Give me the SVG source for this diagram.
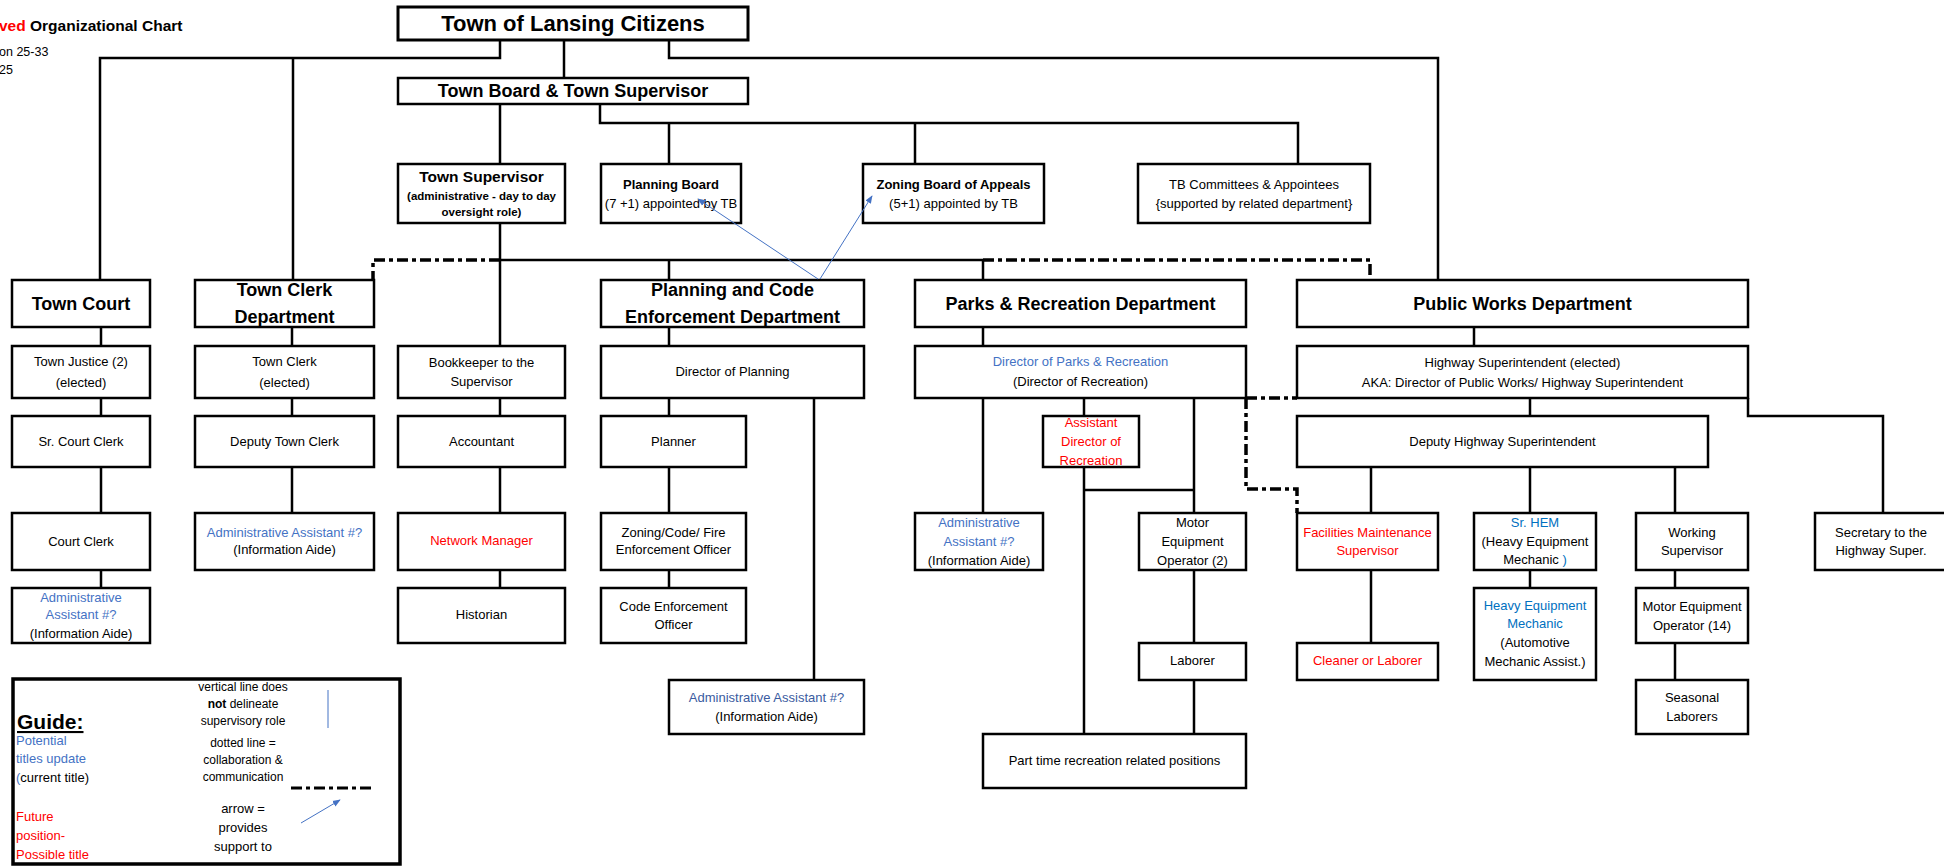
<svg xmlns="http://www.w3.org/2000/svg" width="1944" height="866" viewBox="0 0 1944 866">
<style>
  .bx{fill:#fff;stroke:#000;stroke-width:2.5}
  .ln{fill:none;stroke:#000;stroke-width:2.5}
  .dd{fill:none;stroke:#000;stroke-width:3.5;stroke-dasharray:11 4 4 4}
  .ar{fill:none;stroke:#4472C4;stroke-width:1}
  text{font-family:"Liberation Sans",Arial,sans-serif;font-size:13px;fill:#000;text-anchor:middle}
  .h{font-weight:bold;font-size:18px}
  .sb{font-weight:bold}
  .bl{fill:#4472C4}
  .bl2{fill:#0070C0}
  .rd{fill:#FF0000}
  .lt{text-anchor:start}
</style>
<defs>
  <marker id="ah" viewBox="0 0 10 10" refX="9" refY="5" markerWidth="8" markerHeight="8" markerUnits="userSpaceOnUse" orient="auto">
    <path d="M0,1 L10,5 L0,9 Z" fill="#4472C4"/>
  </marker>
  <clipPath id="potclip"><rect x="0" y="736" width="200" height="30"/></clipPath>
</defs>

<!-- title -->
<g id="title">
  <text class="lt sb" x="-1" y="31" style="font-size:15.5px"><tspan class="rd">ved</tspan> Organizational Chart</text>
  <text class="lt" x="-1" y="56" style="font-size:12.5px">on 25-33</text>
  <text class="lt" x="-1" y="74" style="font-size:12.5px">25</text>
</g>

<!-- top -->
<g id="citizens"><rect class="bx" x="398" y="7" width="350" height="33" style="stroke-width:3"/><text x="573" y="31" class="sb" style="font-size:22px">Town of Lansing Citizens</text></g>
<g id="town-board"><rect class="bx" x="398" y="78" width="350" height="26"/><text x="573" y="97" class="h">Town Board &amp; Town Supervisor</text></g>

<g id="town-supervisor"><rect class="bx" x="398" y="164" width="167" height="59"/>
  <text x="481.5" y="182" class="sb" style="font-size:15.5px">Town Supervisor</text>
  <text x="481.5" y="200" class="sb" style="font-size:11.5px">(administrative - day to day</text>
  <text x="481.5" y="216" class="sb" style="font-size:11.5px">oversight role)</text></g>
<g id="planning-board"><rect class="bx" x="601" y="164" width="140" height="59"/>
  <text x="671" y="189" class="sb">Planning Board</text>
  <text x="671" y="208">(7 +1) appointed by TB</text></g>
<g id="zba"><rect class="bx" x="863" y="164" width="181" height="59"/>
  <text x="953.5" y="189" class="sb">Zoning Board of Appeals</text>
  <text x="953.5" y="208">(5+1) appointed by TB</text></g>
<g id="tb-committees"><rect class="bx" x="1138" y="164" width="232" height="59"/>
  <text x="1254" y="189">TB Committees &amp; Appointees</text>
  <text x="1254" y="208">{supported by related department}</text></g>

<!-- Town Court column -->
<g id="town-court"><rect class="bx" x="12" y="280" width="138" height="47"/><text x="81" y="310" class="h">Town Court</text></g>
<g id="town-justice"><rect class="bx" x="12" y="346" width="138" height="52"/><text x="81" y="366">Town Justice (2)</text><text x="81" y="387">(elected)</text></g>
<g id="sr-court-clerk"><rect class="bx" x="12" y="416" width="138" height="51"/><text x="81" y="446">Sr. Court Clerk</text></g>
<g id="court-clerk"><rect class="bx" x="12" y="513" width="138" height="57"/><text x="81" y="546">Court Clerk</text></g>
<g id="court-admin"><rect class="bx" x="12" y="588" width="138" height="55"/><text x="81" y="602" class="bl">Administrative</text><text x="81" y="619" class="bl">Assistant #?</text><text x="81" y="638">(Information Aide)</text></g>

<!-- Town Clerk column -->
<g id="town-clerk-dept"><rect class="bx" x="195" y="280" width="179" height="47"/><text x="284.5" y="296" class="h">Town Clerk</text><text x="284.5" y="323" class="h">Department</text></g>
<g id="town-clerk"><rect class="bx" x="195" y="346" width="179" height="52"/><text x="284.5" y="366">Town Clerk</text><text x="284.5" y="387">(elected)</text></g>
<g id="deputy-clerk"><rect class="bx" x="195" y="416" width="179" height="51"/><text x="284.5" y="446">Deputy Town Clerk</text></g>
<g id="clerk-admin"><rect class="bx" x="195" y="513" width="179" height="57"/><text x="284.5" y="537" class="bl">Administrative Assistant #?</text><text x="284.5" y="554">(Information Aide)</text></g>

<!-- Supervisor column -->
<g id="bookkeeper"><rect class="bx" x="398" y="346" width="167" height="52"/><text x="481.5" y="367">Bookkeeper to the</text><text x="481.5" y="386">Supervisor</text></g>
<g id="accountant"><rect class="bx" x="398" y="416" width="167" height="51"/><text x="481.5" y="446">Accountant</text></g>
<g id="network-manager"><rect class="bx" x="398" y="513" width="167" height="57"/><text x="481.5" y="545" class="rd">Network Manager</text></g>
<g id="historian"><rect class="bx" x="398" y="588" width="167" height="55"/><text x="481.5" y="619">Historian</text></g>

<!-- Planning column -->
<g id="planning-dept"><rect class="bx" x="601" y="280" width="263" height="47"/><text x="732.5" y="296" class="h">Planning and Code</text><text x="732.5" y="323" class="h">Enforcement Department</text></g>
<g id="director-planning"><rect class="bx" x="601" y="346" width="263" height="52"/><text x="732.5" y="376">Director of Planning</text></g>
<g id="planner"><rect class="bx" x="601" y="416" width="145" height="51"/><text x="673.5" y="446">Planner</text></g>
<g id="zoning-officer"><rect class="bx" x="601" y="513" width="145" height="57"/><text x="673.5" y="537">Zoning/Code/ Fire</text><text x="673.5" y="554">Enforcement Officer</text></g>
<g id="code-officer"><rect class="bx" x="601" y="588" width="145" height="55"/><text x="673.5" y="611">Code Enforcement</text><text x="673.5" y="629">Officer</text></g>
<g id="planning-admin"><rect class="bx" x="669" y="680" width="195" height="54"/><text x="766.5" y="702" style="fill:#3A5BA0">Administrative Assistant #?</text><text x="766.5" y="721">(Information Aide)</text></g>

<!-- Parks column -->
<g id="parks-dept"><rect class="bx" x="915" y="280" width="331" height="47"/><text x="1080.5" y="310" class="h">Parks &amp; Recreation Department</text></g>
<g id="director-parks"><rect class="bx" x="915" y="346" width="331" height="52"/><text x="1080.5" y="366" class="bl">Director of Parks &amp; Recreation</text><text x="1080.5" y="386">(Director of Recreation)</text></g>
<g id="asst-director"><rect class="bx" x="1043" y="416" width="96" height="51"/><text x="1091" y="427" class="rd">Assistant</text><text x="1091" y="446" class="rd">Director of</text><text x="1091" y="465" class="rd">Recreation</text></g>
<g id="parks-admin"><rect class="bx" x="915" y="513" width="128" height="57"/><text x="979" y="527" class="bl">Administrative</text><text x="979" y="546" class="bl">Assistant #?</text><text x="979" y="565">(Information Aide)</text></g>
<g id="meo-2"><rect class="bx" x="1139" y="513" width="107" height="57"/><text x="1192.5" y="527">Motor</text><text x="1192.5" y="546">Equipment</text><text x="1192.5" y="565">Operator (2)</text></g>
<g id="laborer"><rect class="bx" x="1139" y="643" width="107" height="37"/><text x="1192.5" y="665">Laborer</text></g>
<g id="part-time"><rect class="bx" x="983" y="734" width="263" height="54"/><text x="1114.5" y="765">Part time recreation related positions</text></g>

<!-- Public Works column -->
<g id="public-works"><rect class="bx" x="1297" y="280" width="451" height="47"/><text x="1522.5" y="310" class="h">Public Works Department</text></g>
<g id="highway-super"><rect class="bx" x="1297" y="346" width="451" height="52"/><text x="1522.5" y="367">Highway Superintendent (elected)</text><text x="1522.5" y="387">AKA: Director of Public Works/ Highway Superintendent</text></g>
<g id="deputy-highway"><rect class="bx" x="1297" y="416" width="411" height="51"/><text x="1502.5" y="446">Deputy Highway Superintendent</text></g>
<g id="facilities"><rect class="bx" x="1297" y="513" width="141" height="57"/><text x="1367.5" y="537" class="rd">Facilities Maintenance</text><text x="1367.5" y="555" class="rd">Supervisor</text></g>
<g id="sr-hem"><rect class="bx" x="1474" y="513" width="122" height="57"/><text x="1535" y="527" class="bl2">Sr. HEM</text><text x="1535" y="546">(Heavy Equipment</text><text x="1535" y="564">Mechanic <tspan class="bl2">)</tspan></text></g>
<g id="working-super"><rect class="bx" x="1636" y="513" width="112" height="57"/><text x="1692" y="537">Working</text><text x="1692" y="555">Supervisor</text></g>
<g id="secretary"><rect class="bx" x="1815" y="513" width="140" height="57"/><text x="1881" y="537">Secretary to the</text><text x="1881" y="555">Highway Super.</text></g>
<g id="cleaner"><rect class="bx" x="1297" y="643" width="141" height="37"/><text x="1367.5" y="665" class="rd">Cleaner or Laborer</text></g>
<g id="hem"><rect class="bx" x="1474" y="588" width="122" height="92"/><text x="1535" y="610" class="bl2">Heavy Equipment</text><text x="1535" y="628" class="bl2">Mechanic</text><text x="1535" y="647">(Automotive</text><text x="1535" y="666">Mechanic Assist.)</text></g>
<g id="meo-14"><rect class="bx" x="1636" y="588" width="112" height="55"/><text x="1692" y="611">Motor Equipment</text><text x="1692" y="630">Operator (14)</text></g>
<g id="seasonal"><rect class="bx" x="1636" y="680" width="112" height="54"/><text x="1692" y="702">Seasonal</text><text x="1692" y="721">Laborers</text></g>

<!-- connectors -->
<g id="connectors">
  <path class="ln" d="M500,40 V58 H100 V280 M293,58 V280"/>
  <path class="ln" d="M564,40 V78"/>
  <path class="ln" d="M669,40 V58 H1438 V280"/>
  <path class="ln" d="M500,104 V164 M500,223 V346 M500,260 H983 M669,260 V280 M983,260 V280"/>
  <path class="ln" d="M600,104 V123 H1298 V164 M669,123 V164 M915,123 V164"/>
  <path class="ln" d="M101,327 V346 M101,398 V416 M101,467 V513 M101,570 V588"/>
  <path class="ln" d="M292,327 V346 M292,398 V416 M292,467 V513"/>
  <path class="ln" d="M500,398 V416 M500,467 V513 M500,570 V588"/>
  <path class="ln" d="M669,327 V346 M669,398 V416 M669,467 V513 M669,570 V588 M814,398 V680"/>
  <path class="ln" d="M983,327 V346 M983,398 V513 M1084,398 V416 M1084,467 V734 M1194,398 V513 M1194,570 V643 M1194,680 V734 M1084,490 H1194"/>
  <path class="ln" d="M1474,327 V346 M1530,398 V416 M1748,398 V416 H1883 V513"/>
  <path class="ln" d="M1371,467 V513 M1530,467 V513 M1675,467 V513 M1371,570 V643 M1530,570 V588 M1675,570 V588 M1675,643 V680"/>
  <path class="dd" d="M500,260 H373 V280"/>
  <path class="dd" d="M983,260 H1370 V280"/>
  <path class="dd" d="M1246,398 H1297"/>
  <path class="dd" d="M1246,398 V489 H1297 V513"/>
  <path class="ar" d="M818,279 L698,199" marker-end="url(#ah)"/>
  <path class="ar" d="M820,279 L872,196" marker-end="url(#ah)"/>
</g>

<!-- Legend -->
<g id="guide">
  <rect x="13" y="679" width="387" height="185" fill="#fff" stroke="#000" stroke-width="3.5"/>
  <text class="lt bl" x="16" y="745" clip-path="url(#potclip)">Potential</text>
  <text class="lt sb" x="17" y="729" style="font-size:21px;text-decoration:underline">Guide:</text>
  <text class="lt bl" x="16" y="763">titles update</text>
  <text class="lt" x="16" y="782"><tspan class="bl">(</tspan>current title)</text>
  <text class="lt rd" x="16" y="821">Future</text>
  <text class="lt rd" x="16" y="840">position-</text>
  <text class="lt rd" x="16" y="859">Possible title</text>
  <text x="243" y="691" style="font-size:12px">vertical line does</text>
  <text x="243" y="708" style="font-size:12px"><tspan class="sb">not</tspan> delineate</text>
  <text x="243" y="725" style="font-size:12px">supervisory role</text>
  <text x="243" y="747" style="font-size:12px">dotted line =</text>
  <text x="243" y="764" style="font-size:12px">collaboration &amp;</text>
  <text x="243" y="781" style="font-size:12px">communication</text>
  <text x="243" y="813">arrow =</text>
  <text x="243" y="832">provides</text>
  <text x="243" y="851">support to</text>
  <path d="M328,690 V728" stroke="#4472C4" stroke-width="1" fill="none"/>
  <path class="dd" d="M291,788 H375" style="stroke-width:3"/>
  <path class="ar" d="M301,823 L340,800" marker-end="url(#ah)"/>
</g>
</svg>
